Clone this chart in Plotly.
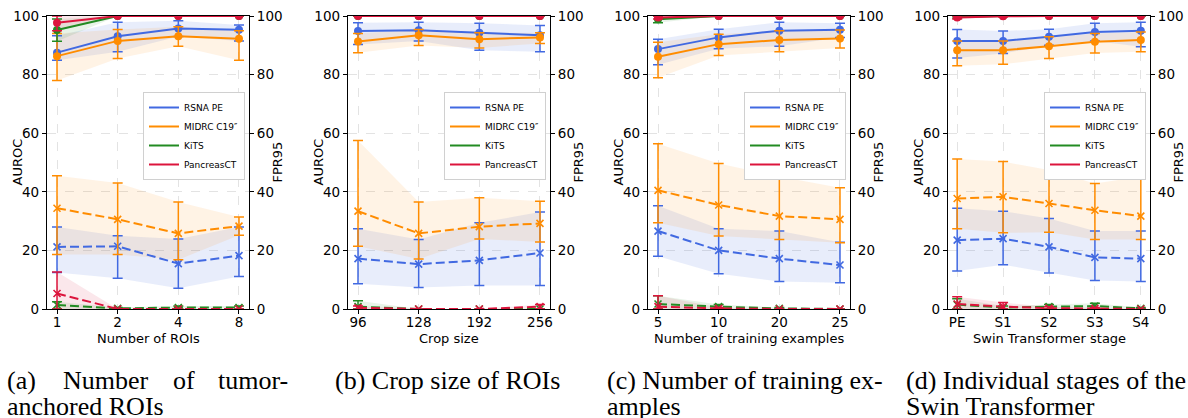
import plotly.graph_objects as go

# ---------------------------------------------------------------- data
DATASETS = ["RSNA PE", "MIDRC C19\u2033", "KiTS", "PancreasCT"]
COLORS = ["#4169E1", "#FF8C00", "#228B22", "#DC143C"]
BANDS = ["rgba(65,105,225,0.12)", "rgba(255,140,0,0.10)",
         "rgba(34,139,34,0.10)", "rgba(220,20,60,0.10)"]

# (a) number of tumor-anchored ROIs
ROI_CATS = ["1", "2", "4", "8"]
ROI_AUROC = {"RSNA PE": [87.5, 93.1, 95.7, 95.3], "MIDRC C19\u2033": [86.3, 91.5, 93.1, 92.2],
             "KiTS": [95.2, 100, 100, 100], "PancreasCT": [97.7, 100, 100, 100]}
ROI_AUROC_LO = {"RSNA PE": [84.9, 87.8, 93.0, 91.5], "MIDRC C19\u2033": [78.0, 85.5, 89.7, 84.9],
                "KiTS": [91.4, 100, 100, 100], "PancreasCT": [95.0, 100, 100, 100]}
ROI_AUROC_HI = {"RSNA PE": [93.3, 97.9, 98.4, 96.9], "MIDRC C19\u2033": [94.0, 95.4, 96.3, 95.0],
                "KiTS": [99.0, 100, 100, 100], "PancreasCT": [100, 100, 100, 100]}
ROI_FPR = {"RSNA PE": [21.2, 21.4, 15.5, 18.2], "MIDRC C19\u2033": [34.4, 30.6, 25.8, 28.3],
           "KiTS": [1.4, 0.2, 0.5, 0.5], "PancreasCT": [5.3, 0, 0, 0]}
ROI_FPR_LO = {"RSNA PE": [12.5, 10.5, 7.1, 11.1], "MIDRC C19\u2033": [18.6, 18.6, 16.8, 25.2],
              "KiTS": [0, 0, 0, 0], "PancreasCT": [0, 0, 0, 0]}
ROI_FPR_HI = {"RSNA PE": [28.0, 25.0, 23.9, 28.0], "MIDRC C19\u2033": [45.5, 43.0, 36.5, 31.4],
              "KiTS": [2.5, 0.5, 1.0, 1.0], "PancreasCT": [12.6, 0, 0, 0]}

# (b) crop size of ROIs
CROP_CATS = ["96", "128", "192", "256"]
CROP_AUROC = {"RSNA PE": [94.9, 95.1, 94.3, 93.4], "MIDRC C19\u2033": [91.3, 93.4, 92.1, 92.7],
              "KiTS": [100, 100, 100, 100], "PancreasCT": [100, 100, 100, 100]}
CROP_AUROC_LO = {"RSNA PE": [90.3, 91.5, 88.3, 87.8], "MIDRC C19\u2033": [87.5, 89.9, 89.1, 90.6],
                 "KiTS": [100, 100, 100, 100], "PancreasCT": [100, 100, 100, 100]}
CROP_AUROC_HI = {"RSNA PE": [97.7, 97.9, 97.5, 96.8], "MIDRC C19\u2033": [94.0, 95.4, 94.3, 94.3],
                 "KiTS": [100, 100, 100, 100], "PancreasCT": [100, 100, 100, 100]}
CROP_FPR = {"RSNA PE": [17.2, 15.3, 16.6, 19.1], "MIDRC C19\u2033": [33.4, 25.8, 28.1, 29.2],
            "KiTS": [0.8, 0, 0, 0], "PancreasCT": [0.4, 0, 0, 0.8]}
CROP_FPR_LO = {"RSNA PE": [8.6, 7.3, 8.0, 8.0], "MIDRC C19\u2033": [21.4, 17.1, 23.9, 22.9],
               "KiTS": [0, 0, 0, 0], "PancreasCT": [0, 0, 0, 0]}
CROP_FPR_HI = {"RSNA PE": [27.4, 23.7, 29.4, 33.1], "MIDRC C19\u2033": [57.5, 36.5, 38.0, 36.8],
               "KiTS": [2.8, 0, 0, 0], "PancreasCT": [1.0, 0, 0, 1.5]}

# (c) number of training examples
TRAIN_CATS = ["5", "10", "20", "25"]
TRAIN_AUROC = {"RSNA PE": [88.7, 92.7, 95.0, 95.3], "MIDRC C19\u2033": [86.1, 90.4, 91.8, 92.3],
               "KiTS": [98.9, 100, 100, 100], "PancreasCT": [99.5, 100, 100, 100]}
TRAIN_AUROC_LO = {"RSNA PE": [83.4, 88.8, 89.7, 92.7], "MIDRC C19\u2033": [78.9, 86.5, 87.8, 89.1],
                  "KiTS": [97.7, 100, 100, 100], "PancreasCT": [99.0, 100, 100, 100]}
TRAIN_AUROC_HI = {"RSNA PE": [92.1, 95.5, 97.9, 97.5], "MIDRC C19\u2033": [91.0, 93.8, 95.0, 95.2],
                  "KiTS": [100, 100, 100, 100], "PancreasCT": [100, 100, 100, 100]}
TRAIN_FPR = {"RSNA PE": [26.6, 20.0, 17.2, 15.0], "MIDRC C19\u2033": [40.5, 35.5, 31.7, 30.6],
             "KiTS": [1.7, 0.8, 0.2, 0], "PancreasCT": [0.8, 0.2, 0, 0]}
TRAIN_FPR_LO = {"RSNA PE": [18.0, 12.0, 9.4, 9.0], "MIDRC C19\u2033": [29.4, 24.9, 23.7, 22.6],
                "KiTS": [0, 0, 0, 0], "PancreasCT": [0, 0, 0, 0]}
TRAIN_FPR_HI = {"RSNA PE": [35.2, 27.4, 26.6, 22.8], "MIDRC C19\u2033": [56.4, 49.7, 45.2, 41.4],
                "KiTS": [4.5, 1.5, 0.5, 0], "PancreasCT": [4.5, 0.5, 0, 0]}

# (d) individual Swin Transformer stages
STAGE_CATS = ["PE", "S1", "S2", "S3", "S4"]
STAGE_AUROC = {"RSNA PE": [91.5, 91.5, 92.9, 94.5, 95.0], "MIDRC C19\u2033": [88.3, 88.3, 89.7, 91.2, 91.8],
               "KiTS": [99.7, 100, 100, 100, 100], "PancreasCT": [99.5, 99.9, 100, 100, 100]}
STAGE_AUROC_LO = {"RSNA PE": [85.7, 87.2, 90.0, 91.5, 89.5], "MIDRC C19\u2033": [83.0, 83.5, 85.5, 87.4, 87.8],
                  "KiTS": [99.3, 100, 100, 100, 100], "PancreasCT": [99.0, 99.7, 100, 100, 100]}
STAGE_AUROC_HI = {"RSNA PE": [95.4, 94.9, 95.5, 97.5, 97.9], "MIDRC C19\u2033": [91.5, 91.5, 92.9, 94.0, 94.5],
                  "KiTS": [100, 100, 100, 100, 100], "PancreasCT": [100, 100, 100, 100, 100]}
STAGE_FPR = {"RSNA PE": [23.5, 24.0, 21.2, 17.6, 17.2], "MIDRC C19\u2033": [37.7, 38.3, 36.0, 33.7, 31.7],
             "KiTS": [1.5, 0.5, 0.8, 1.0, 0.2], "PancreasCT": [1.7, 0.8, 0.3, 0.2, 0.0]}
STAGE_FPR_LO = {"RSNA PE": [13.0, 15.1, 12.3, 9.7, 9.4], "MIDRC C19\u2033": [27.4, 26.0, 26.2, 23.7, 23.7],
                "KiTS": [0, 0, 0, 0, 0], "PancreasCT": [0, 0, 0, 0, 0]}
STAGE_FPR_HI = {"RSNA PE": [34.4, 33.4, 30.9, 26.6, 26.6], "MIDRC C19\u2033": [51.2, 50.3, 47.4, 42.8, 45.2],
                "KiTS": [3.5, 1.0, 1.5, 2.0, 0.5], "PancreasCT": [4.2, 2.2, 0.8, 0.5, 0]}

PANELS = [
    dict(cats=ROI_CATS, xlabel="Number of ROIs",
         auroc=(ROI_AUROC, ROI_AUROC_LO, ROI_AUROC_HI), fpr=(ROI_FPR, ROI_FPR_LO, ROI_FPR_HI)),
    dict(cats=CROP_CATS, xlabel="Crop size",
         auroc=(CROP_AUROC, CROP_AUROC_LO, CROP_AUROC_HI), fpr=(CROP_FPR, CROP_FPR_LO, CROP_FPR_HI)),
    dict(cats=TRAIN_CATS, xlabel="Number of training examples",
         auroc=(TRAIN_AUROC, TRAIN_AUROC_LO, TRAIN_AUROC_HI), fpr=(TRAIN_FPR, TRAIN_FPR_LO, TRAIN_FPR_HI)),
    dict(cats=STAGE_CATS, xlabel="Swin Transformer stage",
         auroc=(STAGE_AUROC, STAGE_AUROC_LO, STAGE_AUROC_HI), fpr=(STAGE_FPR, STAGE_FPR_LO, STAGE_FPR_HI)),
]

# ---------------------------------------------------------------- layout
W, H = 1188, 418
PLOT_LEFT = [47, 348, 648, 948]       # left spine of each panel, px
PLOT_W = 202
PLOT_TOP, PLOT_BOTTOM = 16, 309
SANS = "DejaVu Sans"
SERIF = "Liberation Serif"
TICK_SIZE = 13.5


def px(x):
    return x / W


def py(y):
    return 1 - y / H


fig = go.Figure()
layout = dict(width=W, height=H,
              margin=dict(l=0, r=0, t=0, b=0, pad=0, autoexpand=False),
              paper_bgcolor="white", plot_bgcolor="white", showlegend=True)
annotations = []

axis_common = dict(showline=True, linecolor="black", linewidth=1.3, ticks="outside",
                   ticklen=4, tickwidth=1.2, tickcolor="black", automargin=False,
                   tickfont=dict(family=SANS, size=TICK_SIZE, color="black"))


def text_note(x, y, text, size, family=SANS, angle=0, xanchor="center"):
    return dict(x=px(x), y=py(y), text=text, textangle=angle, showarrow=False,
                xref="paper", yref="paper", xanchor=xanchor, yanchor="middle",
                font=dict(family=family, size=size, color="black"))


for i, panel in enumerate(PANELS):
    n = i + 1
    xname, yname, y2name = f"x{n}", f"y{n}", f"y{n + 4}"
    cats = panel["cats"]
    pad = 0.165 if len(cats) == 4 else 0.2
    x0, x1 = PLOT_LEFT[i], PLOT_LEFT[i] + PLOT_W

    layout[f"xaxis{n}"] = dict(domain=[px(x0), px(x1)], anchor=yname, type="category",
                               categoryorder="array", categoryarray=cats,
                               range=[-pad, len(cats) - 1 + pad], mirror=True,
                               showgrid=True, gridcolor="#e3e3e3", griddash="dash", gridwidth=0.8,
                               zeroline=False, ticklabelstandoff=-3, **axis_common)
    layout[f"yaxis{n}"] = dict(domain=[py(PLOT_BOTTOM), py(PLOT_TOP)], anchor=xname,
                               range=[0, 100], tickvals=[0, 20, 40, 60, 80, 100],
                               showgrid=True, gridcolor="#e3e3e3", griddash="dash", gridwidth=0.8,
                               zeroline=False, **axis_common)
    layout[f"yaxis{n + 4}"] = dict(overlaying=yname, anchor=xname, side="right",
                                   range=[0, 100], tickvals=[0, 20, 40, 60, 80, 100],
                                   showgrid=False, zeroline=False, **axis_common)

    # shaded bands first, so the lines sit above them
    for metric, ax in (("auroc", yname), ("fpr", y2name)):
        mean, lo, hi = panel[metric]
        for d, name in enumerate(DATASETS):
            fig.add_trace(go.Scatter(
                x=cats + cats[::-1], y=hi[name] + lo[name][::-1],
                fill="toself", fillcolor=BANDS[d], line=dict(width=0),
                mode="lines", hoverinfo="skip", showlegend=False,
                xaxis=xname, yaxis=ax))

    for metric, ax in (("auroc", yname), ("fpr", y2name)):
        mean, lo, hi = panel[metric]
        for d, name in enumerate(DATASETS):
            m = mean[name]
            up = [h - v for h, v in zip(hi[name], m)]
            dn = [v - l for v, l in zip(m, lo[name])]
            if metric == "auroc":
                marker = dict(symbol="circle", size=8, color=COLORS[d])
                line = dict(color=COLORS[d], width=2)
            else:
                marker = dict(symbol="x-thin", size=7, color=COLORS[d],
                              line=dict(color=COLORS[d], width=1.6))
                line = dict(color=COLORS[d], width=2, dash="9px,4px")
            fig.add_trace(go.Scatter(
                x=cats, y=m, mode="lines+markers", name=name,
                line=line, marker=marker, showlegend=False,
                error_y=dict(type="data", array=up, arrayminus=dn, symmetric=False,
                             color=COLORS[d], thickness=1.5, width=5),
                xaxis=xname, yaxis=ax))

    # legend entries (line samples only)
    legend_id = "legend" if n == 1 else f"legend{n}"
    for d, name in enumerate(DATASETS):
        fig.add_trace(go.Scatter(
            x=[None], y=[None], mode="lines", name=name,
            line=dict(color=COLORS[d], width=2), showlegend=True,
            legend=legend_id, xaxis=xname, yaxis=yname))
    layout[legend_id] = dict(x=px(x0 + 96), y=py(92), xanchor="left", yanchor="top",
                             bgcolor="white", bordercolor="#d0d0d0", borderwidth=1,
                             font=dict(family=SANS, size=9, color="black"),
                             tracegroupgap=0, itemwidth=30)

    # axis titles
    mid_y = (PLOT_TOP + PLOT_BOTTOM) / 2
    annotations.append(text_note(x0 - 30, mid_y, "AUROC", 13, angle=-90))
    annotations.append(text_note(x1 + 28, mid_y, "FPR95", 13, angle=-90))
    annotations.append(text_note((x0 + x1) / 2, 338, panel["xlabel"], 13))

# sub-figure captions
CAPTION_SIZE = 26
caption_lines = [
    ("(a)", 5, 380, "left"), ("Number", 61, 380, "left"), ("of", 171, 380, "left"),
    ("tumor-", 290, 380, "right"), ("anchored ROIs", 5, 406, "left"),
    ("(b) Crop size of ROIs", 333, 380, "left"),
    ("(c) Number of training ex-", 605, 380, "left"), ("amples", 605, 406, "left"),
    ("(d) Individual stages of the", 904, 380, "left"), ("Swin Transformer", 904, 406, "left"),
]
for text, x, y, anchor in caption_lines:
    annotations.append(text_note(x, y, text, CAPTION_SIZE, family=SERIF, xanchor=anchor))

layout["annotations"] = annotations
fig.update_layout(**layout)
fig.write_html("out.html", config={"displayModeBar": False})
